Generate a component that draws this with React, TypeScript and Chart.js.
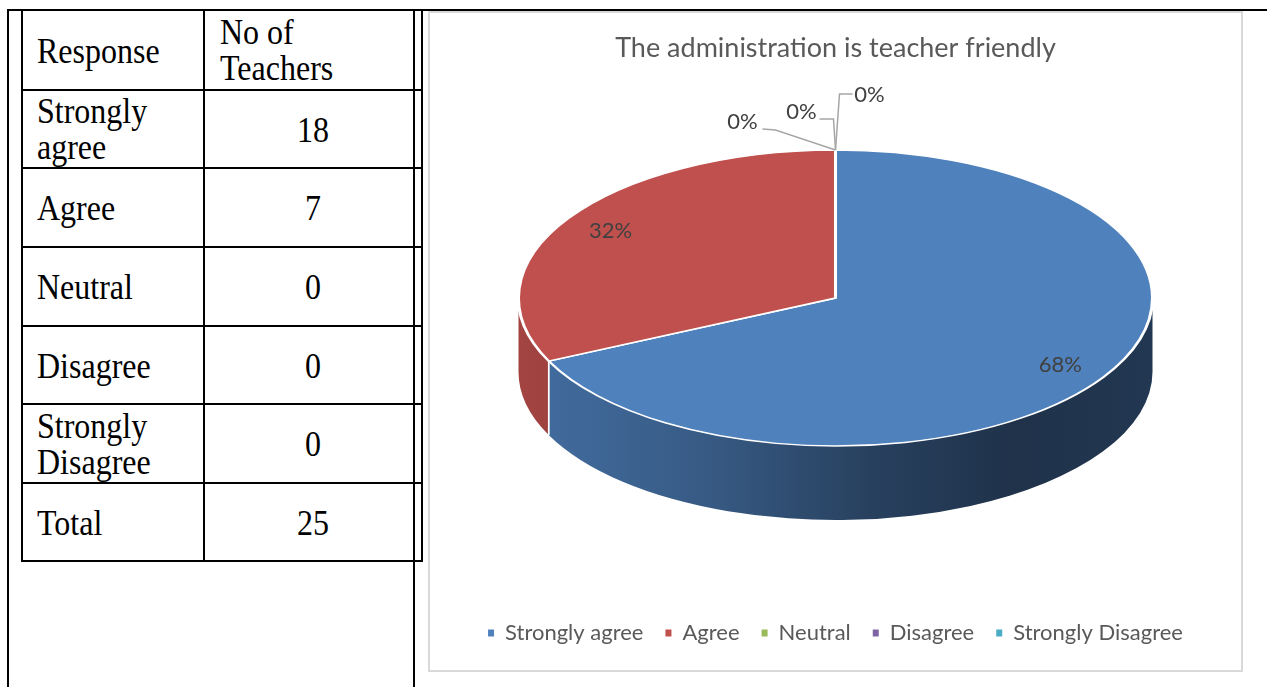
import React, { useEffect, useRef } from "react";
import { Chart, registerables } from "chart.js";

Chart.register(...registerables);

// ---------------- data ----------------
const tableHeaderResponse = "Response";
const tableHeaderCount = "No of Teachers";
const responseLabels = ["Strongly agree", "Agree", "Neutral", "Disagree", "Strongly Disagree"];
const teacherCounts = [18, 7, 0, 0, 0];
const totalLabel = "Total";
const totalTeachers = 25;

const chartTitle = "The administration is teacher friendly";
const chartCategories = ["Strongly agree", "Agree", "Neutral", "Disagree", "Strongly Disagree"];
const chartPercentages = [68, 32, 0, 0, 0];
const sliceColors = ["#4f81bd", "#c0504d", "#9bbb59", "#8064a2", "#4bacc6"];

// ---------------- layout / style ----------------
const TABLE_FONT = '"Liberation Serif", "Times New Roman", serif';
const CHART_FONT = "Lato, Carlito, Calibri, 'Open Sans', sans-serif";
const TABLE_FONT_SIZE = 32;
const TABLE_LINE_H = "31px";
const TABLE_STRETCH = "scaleY(1.15)";
const rowEdges = [9, 89, 167, 246, 325, 403, 482, 560];
const colEdges = [21, 203, 421];

const PIE_CENTER_Y = 285;
const PIE_RX = 317;
const PIE_RY = 148;
const PIE_DEPTH = 74;
const LABEL_F = 0.84;
// leader-line label placement for zero-value slices, relative to the slice anchor
const zeroLabelLayout = [
  { text: [-93, -28], end: [-73, -21], bend: [-60, -20] },
  { text: [-34, -38], end: [-16, -31], bend: [-2, -31] },
  { text: [34, -55], end: [17, -56], bend: [4, -56] },
];

function shade(hex: string, f: number) {
  const n = parseInt(hex.slice(1), 16);
  const r = Math.round(((n >> 16) & 255) * f);
  const g = Math.round(((n >> 8) & 255) * f);
  const b = Math.round((n & 255) * f);
  return `rgb(${r},${g},${b})`;
}

const wallStops: [number, number][] = [
  [0, 0.85],
  [0.3, 0.7],
  [0.55, 0.5],
  [0.78, 0.39],
  [1, 0.43],
];

const pie3dPlugin = {
  id: "pie3d",
  beforeDatasetsDraw(chart: any) {
    const meta = chart.getDatasetMeta(0);
    const arcs = meta.data as any[];
    if (!arcs.length) return;
    const ctx = chart.ctx as CanvasRenderingContext2D;
    const first = arcs[0];
    const cx = first.x;
    const R = first.outerRadius;
    const cy = PIE_CENTER_Y, rx = PIE_RX, ry = PIE_RY, d = PIE_DEPTH;
    const colors = chart.data.datasets[0].backgroundColor as string[];
    ctx.save();
    arcs.forEach((arc, i) => {
      const s = arc.startAngle, e = arc.endAngle;
      if (e - s <= 1e-6) return;
      for (const k of [-1, 0, 1]) {
        const lo = Math.max(s + 2 * Math.PI * k, 0);
        const hi = Math.min(e + 2 * Math.PI * k, Math.PI);
        if (hi <= lo) continue;
        const grad = ctx.createLinearGradient(cx - rx, 0, cx + rx, 0);
        wallStops.forEach(([o, f]) => grad.addColorStop(o, shade(colors[i], f)));
        ctx.beginPath();
        ctx.ellipse(cx, cy, rx, ry, 0, lo, hi, false);
        ctx.ellipse(cx, cy + d, rx, ry, 0, hi, lo, true);
        ctx.closePath();
        ctx.fillStyle = grad;
        ctx.fill();
        ctx.strokeStyle = "#ffffff";
        ctx.lineWidth = 1.5;
        for (const a of [lo, hi]) {
          if (a > 1e-6 && a < Math.PI - 1e-6) {
            const px = cx + rx * Math.cos(a), py = cy + ry * Math.sin(a);
            ctx.beginPath();
            ctx.moveTo(px, py);
            ctx.lineTo(px, py + d);
            ctx.stroke();
          }
        }
      }
    });
    ctx.restore();
    ctx.save();
    ctx.translate(cx, cy);
    ctx.scale(rx / R, ry / R);
    ctx.translate(-cx, -first.y);
  },
  afterDatasetsDraw(chart: any) {
    const ctx = chart.ctx as CanvasRenderingContext2D;
    ctx.restore();
    const meta = chart.getDatasetMeta(0);
    const arcs = meta.data as any[];
    if (!arcs.length) return;
    const data = chart.data.datasets[0].data as number[];
    const total = data.reduce((a, b) => a + b, 0);
    const cx = arcs[0].x, cy = PIE_CENTER_Y, rx = PIE_RX, ry = PIE_RY;
    ctx.save();
    ctx.font = `22px ${CHART_FONT}`;
    ctx.fillStyle = "#404040";
    ctx.textAlign = "center";
    ctx.textBaseline = "middle";
    let z = 0;
    arcs.forEach((arc, i) => {
      const v = data[i];
      const txt = Math.round((v / total) * 100) + "%";
      if (v > 0) {
        const mid = (arc.startAngle + arc.endAngle) / 2;
        ctx.fillText(txt, cx + LABEL_F * rx * Math.cos(mid), cy + LABEL_F * ry * Math.sin(mid));
      } else {
        const lay = zeroLabelLayout[z++ % zeroLabelLayout.length];
        const a = arc.startAngle;
        const ax = cx + rx * Math.cos(a), ay = cy + ry * Math.sin(a);
        ctx.strokeStyle = "#a6a6a6";
        ctx.lineWidth = 1.5;
        ctx.beginPath();
        ctx.moveTo(ax + lay.end[0], ay + lay.end[1]);
        ctx.lineTo(ax + lay.bend[0], ay + lay.bend[1]);
        ctx.lineTo(ax, ay);
        ctx.stroke();
        ctx.fillText(txt, ax + lay.text[0], ay + lay.text[1]);
      }
    });
    ctx.restore();
  },
};

function PieChart() {
  const ref = useRef<HTMLCanvasElement>(null);
  useEffect(() => {
    const canvas = ref.current!;
    const baseGen = (Chart as any).overrides.doughnut.plugins.legend.labels.generateLabels;
    const chart = new Chart(canvas, {
      type: "pie",
      data: {
        labels: chartCategories,
        datasets: [
          {
            data: chartPercentages,
            backgroundColor: sliceColors,
            borderColor: "#ffffff",
            borderWidth: 2.5,
            clip: false,
          } as any,
        ],
      },
      options: {
        responsive: false,
        animation: false,
        events: [],
        layout: { padding: { top: 0, bottom: 16, left: 0, right: 0 } },
        plugins: {
          title: {
            display: true,
            text: chartTitle,
            color: "#595959",
            font: { family: CHART_FONT, size: 27, weight: "normal" as any },
            padding: { top: 19, bottom: 10 },
          },
          legend: {
            position: "bottom",
            labels: {
              color: "#595959",
              font: { family: CHART_FONT, size: 22 },
              boxWidth: 6,
              boxHeight: 7,
              padding: 22,
              generateLabels: (c: any) =>
                baseGen(c).map((l: any) => ({ ...l, lineWidth: 0, strokeStyle: "rgba(0,0,0,0)" })),
            },
          },
          tooltip: { enabled: false },
        },
      } as any,
      plugins: [pie3dPlugin as any],
    });
    return () => chart.destroy();
  }, []);
  return (
    <canvas
      ref={ref}
      width={811}
      height={657}
      style={{ width: 811, height: 657, display: "block" }}
    />
  );
}

const line = (left: number, top: number, width: number, height: number, key: string) => (
  <div key={key} style={{ position: "absolute", left, top, width, height, background: "#000" }} />
);

const textStyle: React.CSSProperties = {
  fontFamily: TABLE_FONT,
  fontSize: TABLE_FONT_SIZE,
  lineHeight: TABLE_LINE_H,
  color: "#000",
  transform: TABLE_STRETCH,
};

function Cell(props: { r: number; c: number; align: "left" | "center"; text: string; maxW?: number; padL?: number }) {
  const { r, c, align, text, maxW, padL } = props;
  const top = rowEdges[r] + 2;
  const height = rowEdges[r + 1] - rowEdges[r] - 2;
  const left = colEdges[c] + 2;
  const width = colEdges[c + 1] - colEdges[c] - 2;
  return (
    <div
      style={{
        position: "absolute",
        left,
        top,
        width,
        height,
        display: "flex",
        alignItems: "center",
        justifyContent: align === "left" ? "flex-start" : "center",
        boxSizing: "border-box",
        paddingLeft: align === "left" ? padL ?? 14 : 0,
      }}
    >
      <div style={{ ...textStyle, maxWidth: maxW ?? 165 }}>{text}</div>
    </div>
  );
}

export default function App() {
  const rows = responseLabels.map((lab, i) => ({ lab, val: teacherCounts[i] }));
  return (
    <div style={{ position: "absolute", left: 0, top: 0, width: 1267, height: 687, overflow: "hidden", background: "#fff" }}>
      {/* outer document table lines */}
      {line(7, 9, 1260, 2, "top")}
      {line(7, 9, 2, 678, "outerL")}
      {line(413, 9, 2, 678, "outerM")}
      {/* inner table lines */}
      {rowEdges.map((y, i) => line(colEdges[0], y, colEdges[2] - colEdges[0] + 2, 2, "h" + i))}
      {colEdges.map((x, i) => line(x, rowEdges[0], 2, rowEdges[rowEdges.length - 1] - rowEdges[0] + 2, "v" + i))}
      {/* header */}
      <Cell r={0} c={0} align="left" text={tableHeaderResponse} />
      <Cell r={0} c={1} align="left" text={tableHeaderCount} maxW={150} padL={15} />
      {rows.map((row, i) => (
        <React.Fragment key={row.lab}>
          <Cell r={i + 1} c={0} align="left" text={row.lab} />
          <Cell r={i + 1} c={1} align="center" text={String(row.val)} />
        </React.Fragment>
      ))}
      <Cell r={6} c={0} align="left" text={totalLabel} />
      <Cell r={6} c={1} align="center" text={String(totalTeachers)} />
      {/* chart box */}
      <div
        style={{
          position: "absolute",
          left: 428,
          top: 11,
          width: 815,
          height: 661,
          border: "2px solid #d9d9d9",
          boxSizing: "border-box",
          background: "#fff",
        }}
      >
        <PieChart />
      </div>
    </div>
  );
}
